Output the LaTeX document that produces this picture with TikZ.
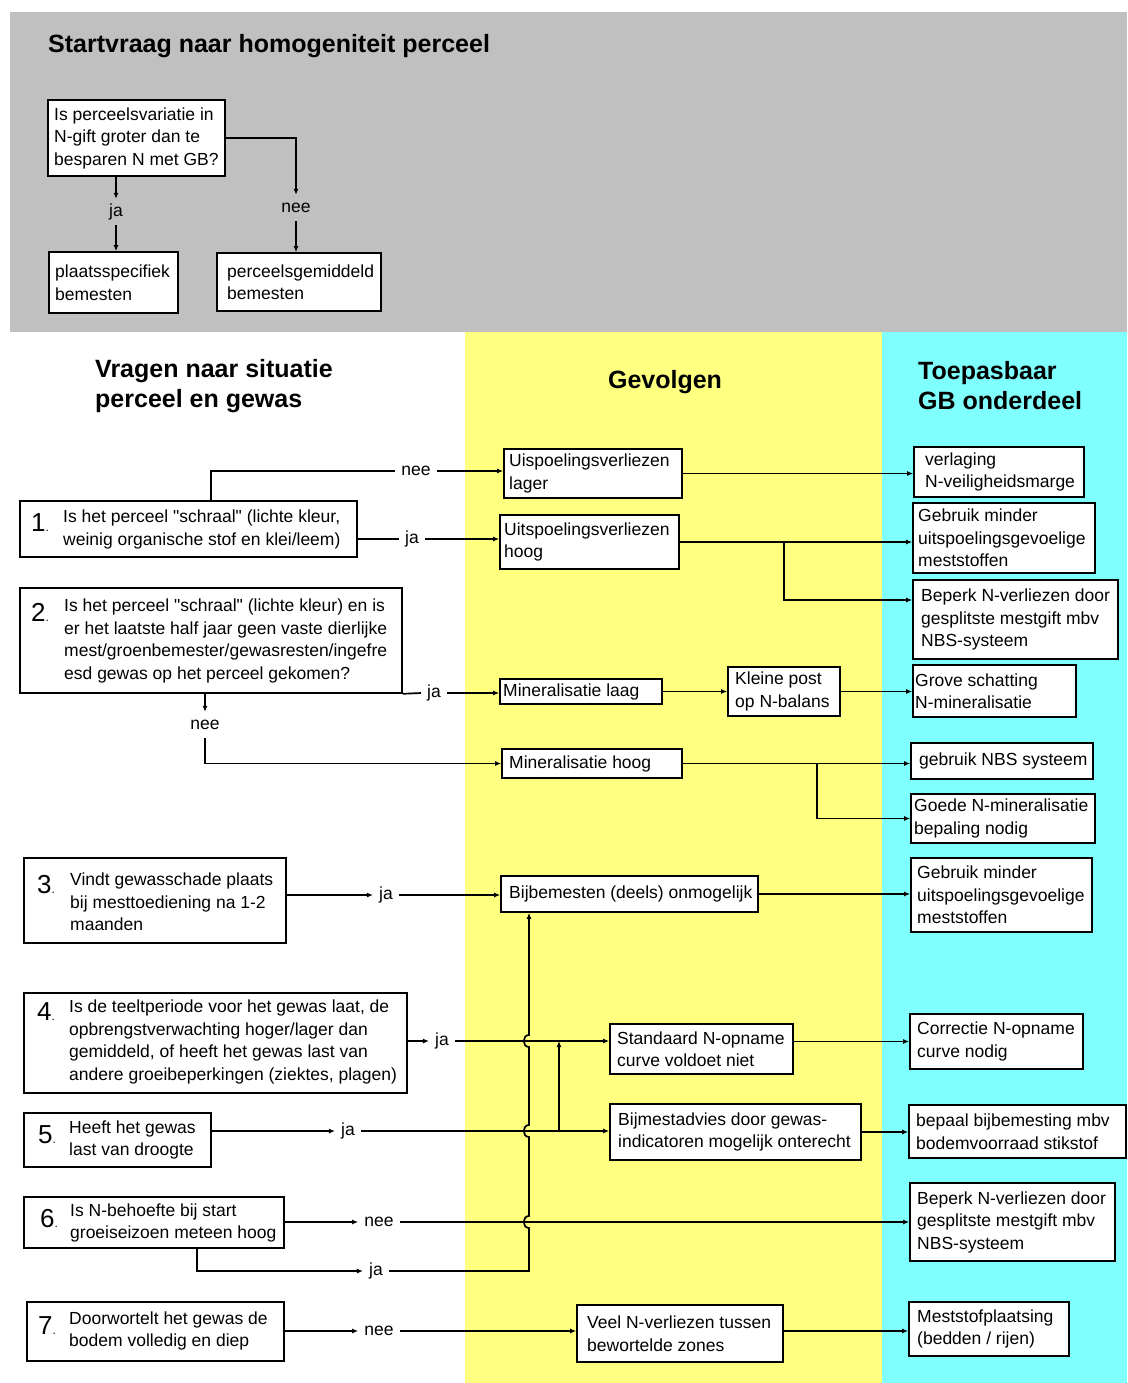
\documentclass[tikz,border=0pt]{standalone}
\usepackage{fontspec}
\setmainfont{Liberation Sans}[Ligatures=TeXOff]
\usetikzlibrary{arrows.meta,fit}
\definecolor{topgray}{HTML}{C0C0C0}
\definecolor{colyel}{HTML}{FFFF80}
\definecolor{colcyan}{HTML}{80FFFF}
\newcommand\qdot{{\fontsize{12}{12}\selectfont.}}
\begin{document}
\begin{tikzpicture}[x=1pt,y=-1pt,
  box/.style={draw=black, line width=1.6pt, fill=white, inner sep=0pt},
  txt/.style={font={\fontsize{17.5}{22.5}\selectfont}, align=left, inner sep=0pt, anchor=west},
  num/.style={font={\fontsize{26}{26}\selectfont}, inner sep=0pt, anchor=base west},
  lbl/.style={font={\fontsize{17.5}{22.5}\selectfont}, inner xsep=6pt, inner ysep=5pt, text height=12pt, text depth=4pt},
  conn/.style={line width=1.7pt},
  arr/.style={conn, -{Latex[length=6pt,width=5pt]}},
  head/.style={font={\fontsize{25}{30}\selectfont\bfseries}, align=left, inner sep=0pt}
]
\useasboundingbox (0,0) rectangle (1127,1383);
\fill[white] (0,0) rectangle (1127,1383);
\fill[topgray] (10,12) rectangle (1127,332);
\fill[colyel] (465,332) rectangle (882,1383);
\fill[colcyan] (882,332) rectangle (1127,1383);

% ---------- top section
\node[head, anchor=west] (title) at (48,46) {Startvraag naar homogeniteit perceel};
\node[box, fit={(48,100) (225,176)}] (q0) {};
\node[txt] (q0t) at (54,138) {Is perceelsvariatie in\\N-gift groter dan te\\besparen N met GB?};
\node[box, fit={(49,252) (178,313)}] (pl) {};
\node[txt] (plt) at (55,282.5) {plaatsspecifiek\\bemesten};
\node[box, fit={(217,253) (381,311)}] (pg) {};
\node[txt] (pgt) at (227,282) {perceelsgemiddeld\\bemesten};
\node[lbl] (ja0) at (116,212) {ja};
\node[lbl] (nee0) at (296,208) {nee};
\draw[arr] (q0.south -| ja0) -- (ja0.north);
\draw[arr] (ja0.south) -- (ja0.south |- pl.north);
\draw[arr] (q0.east) -| (nee0.north);
\draw[arr] (nee0.south) -- (nee0.south |- pg.north);

% ---------- headers
\node[head, anchor=west] (h1) at (95,386) {Vragen naar situatie\\perceel en gewas};
\node[head] (h2) at (665,382) {Gevolgen};
\node[head, anchor=west] (h3) at (918,386) {Toepasbaar\\GB onderdeel};

% ---------- row 1
\node[box, fit={(20,501) (357,557)}] (q1) {};
\node[num] (q1n) at (31,531) {1\qdot};
\node[txt] (q1t) at (63,529.5) {Is het perceel "schraal" (lichte kleur,\\weinig organische stof en klei/leem)};
\node[lbl] (nee1) at (416,471) {nee};
\node[lbl] (ja1) at (412,539) {ja};
\node[box, fit={(504,449) (682,498)}] (ul) {};
\node[txt] (ult) at (509,473.5) {Uispoelingsverliezen\\lager};
\node[box, fit={(500,515) (679,569)}] (uh) {};
\node[txt] (uht) at (504,542) {Uitspoelingsverliezen\\hoog};
\node[box, fit={(914,447) (1084,497)}] (vl) {};
\node[txt] (vlt) at (925,472) {verlaging\\N-veiligheidsmarge};
\node[box, fit={(913,503) (1095,573)}] (gm1) {};
\node[txt] (gm1t) at (918,538) {Gebruik minder\\uitspoelingsgevoelige\\meststoffen};
\node[box, fit={(913,580) (1118,659)}] (bp1) {};
\node[txt] (bp1t) at (921,619.5) {Beperk N-verliezen door\\gesplitste mestgift mbv\\NBS-systeem};
\draw[conn] (q1.north -| 211,0) |- (nee1.west);
\draw[arr] (nee1.east) -- (nee1 -| ul.west);
\draw[conn] (q1.east |- ja1) -- (ja1.west);
\draw[arr] (ja1.east) -- (ja1 -| uh.west);
\draw[arr] (ul.east) -- (ul.east -| vl.west);
\draw[arr] (uh.east) -- (uh.east -| gm1.west);
\draw[arr] (uh.east -| 784,0) |- (bp1.west |- 0,600);

% ---------- row 2
\node[box, fit={(20,588) (402,693)}] (q2) {};
\node[num] (q2n) at (31,621) {2\qdot};
\node[txt] (q2t) at (64,641) {Is het perceel "schraal" (lichte kleur) en is\\er het laatste half jaar geen vaste dierlijke\\mest/groenbemester/gewasresten/ingefre\\esd gewas op het perceel gekomen?};
\node[lbl] (ja2) at (434,693) {ja};
\node[lbl] (nee2) at (205,725) {nee};
\node[box, fit={(500,679) (662,704)}] (ml) {};
\node[txt] (mlt) at (503,691.5) {Mineralisatie laag};
\node[box, fit={(728,667) (840,716)}] (kp) {};
\node[txt] (kpt) at (735,691.5) {Kleine post\\op N-balans};
\node[box, fit={(913,665) (1076,717)}] (gs) {};
\node[txt] (gst) at (915,691) {Grove schatting\\N-mineralisatie};
\node[box, fit={(502,749) (682,778)}] (mh) {};
\node[txt] (mht) at (509,763.5) {Mineralisatie hoog};
\node[box, fit={(911,743) (1093,779)}] (nbs) {};
\node[txt] (nbst) at (919,761) {gebruik NBS systeem};
\node[box, fit={(911,794) (1095,843)}] (gn) {};
\node[txt] (gnt) at (914,818.5) {Goede N-mineralisatie\\bepaling nodig};
\draw[conn] (q2.south east) -- (ja2.west);
\draw[arr] (ja2.east) -- (ja2 -| ml.west);
\draw[arr] (ml.east) -- (ml.east -| kp.west);
\draw[arr] (kp.east) -- (kp.east -| gs.west);
\draw[arr] (q2.south -| nee2) -- (nee2.north);
\draw[arr] (nee2.south) |- (mh.west);
\draw[arr] (mh.east) -- (mh.east -| nbs.west);
\draw[arr] (mh.east -| 817,0) |- (gn.west);

% ---------- row 3
\node[box, fit={(24,858) (286,943)}] (q3) {};
\node[num] (q3n) at (37,893) {3\qdot};
\node[txt] (q3t) at (70,902) {Vindt gewasschade plaats\\bij mesttoediening na 1-2\\maanden};
\node[lbl] (ja3) at (386,895) {ja};
\node[box, fit={(501,876) (758,912)}] (bb) {};
\node[txt] (bbt) at (509,894) {Bijbemesten (deels) onmogelijk};
\node[box, fit={(911,858) (1092,932)}] (gm2) {};
\node[txt] (gm2t) at (917,895) {Gebruik minder\\uitspoelingsgevoelige\\meststoffen};
\draw[arr] (q3.east |- ja3) -- (ja3.west);
\draw[arr] (ja3.east) -- (ja3 -| bb.west);
\draw[arr] (bb.east) -- (bb.east -| gm2.west);

% ---------- row 4
\node[box, fit={(24,993) (407,1093)}] (q4) {};
\node[num] (q4n) at (37,1020) {4\qdot};
\node[txt] (q4t) at (69,1042) {Is de teeltperiode voor het gewas laat, de\\opbrengstverwachting hoger/lager dan\\gemiddeld, of heeft het gewas last van\\andere groeibeperkingen (ziektes, plagen)};
\node[lbl] (ja4) at (442,1041) {ja};
\node[box, fit={(610,1024) (793,1074)}] (sn) {};
\node[txt] (snt) at (617,1049) {Standaard N-opname\\curve voldoet niet};
\node[box, fit={(910,1014) (1083,1069)}] (cn) {};
\node[txt] (cnt) at (917,1041.5) {Correctie N-opname\\curve nodig};
\draw[arr] (q4.east |- ja4) -- (ja4.west);
\draw[arr] (ja4.east) -- (ja4 -| sn.west);
\draw[arr] (sn.east |- cn) -- (cn.west);

% ---------- row 5
\node[box, fit={(24,1113) (211,1167)}] (q5) {};
\node[num] (q5n) at (38,1143) {5\qdot};
\node[txt] (q5t) at (69,1140) {Heeft het gewas\\last van droogte};
\node[lbl] (ja5) at (348,1131) {ja};
\node[box, fit={(610,1104) (861,1160)}] (bm) {};
\node[txt] (bmt) at (618,1132) {Bijmestadvies door gewas-\\indicatoren mogelijk onterecht};
\node[box, fit={(909,1105) (1126,1158)}] (bpl) {};
\node[txt] (bplt) at (916,1131.5) {bepaal bijbemesting mbv\\bodemvoorraad stikstof};
\draw[arr] (q5.east |- ja5) -- (ja5.west);
\draw[arr] (ja5.east) -- (ja5 -| bm.west);
\draw[arr] (bm.east) -- (bm.east -| bpl.west);
\draw[arr] (ja5 -| 559,0) -- (ja4 -| 559,0);

% ---------- row 6
\node[box, fit={(24,1197) (284,1248)}] (q6) {};
\node[num] (q6n) at (40,1227) {6\qdot};
\node[txt] (q6t) at (70,1223) {Is N-behoefte bij start\\groeiseizoen meteen hoog};
\node[lbl] (nee6) at (379,1222) {nee};
\node[lbl] (ja6) at (376,1271) {ja};
\node[box, fit={(910,1183) (1115,1261)}] (bp2) {};
\node[txt] (bp2t) at (917,1222) {Beperk N-verliezen door\\gesplitste mestgift mbv\\NBS-systeem};
\draw[arr] (q6.east |- nee6) -- (nee6.west);
\draw[arr] (nee6.east) -- (nee6 -| bp2.west);
\draw[arr] (q6.south -| 197,0) |- (ja6.west);
\draw[arr] (ja6.east) -- (ja6 -| 529,0) -- (529,1228)
  .. controls +(-7,0) and +(-7,0) .. (529,1216) -- (529,1137)
  .. controls +(-7,0) and +(-7,0) .. (529,1125) -- (529,1047)
  .. controls +(-7,0) and +(-7,0) .. (529,1035) -- (bb.south -| 529,0);

% ---------- row 7
\node[box, fit={(27,1302) (284,1361)}] (q7) {};
\node[num] (q7n) at (38,1334) {7\qdot};
\node[txt] (q7t) at (69,1331) {Doorwortelt het gewas de\\bodem volledig en diep};
\node[lbl] (nee7) at (379,1331) {nee};
\node[box, fit={(577,1305) (783,1362)}] (vn) {};
\node[txt] (vnt) at (587,1333.5) {Veel N-verliezen tussen\\bewortelde zones};
\node[box, fit={(909,1302) (1069,1356)}] (ms) {};
\node[txt] (mst) at (917,1329) {Meststofplaatsing\\(bedden / rijen)};
\draw[arr] (q7.east |- nee7) -- (nee7.west);
\draw[arr] (nee7.east) -- (nee7 -| vn.west);
\draw[arr] (vn.east |- nee7) -- (nee7 -| ms.west);
\end{tikzpicture}
\end{document}
